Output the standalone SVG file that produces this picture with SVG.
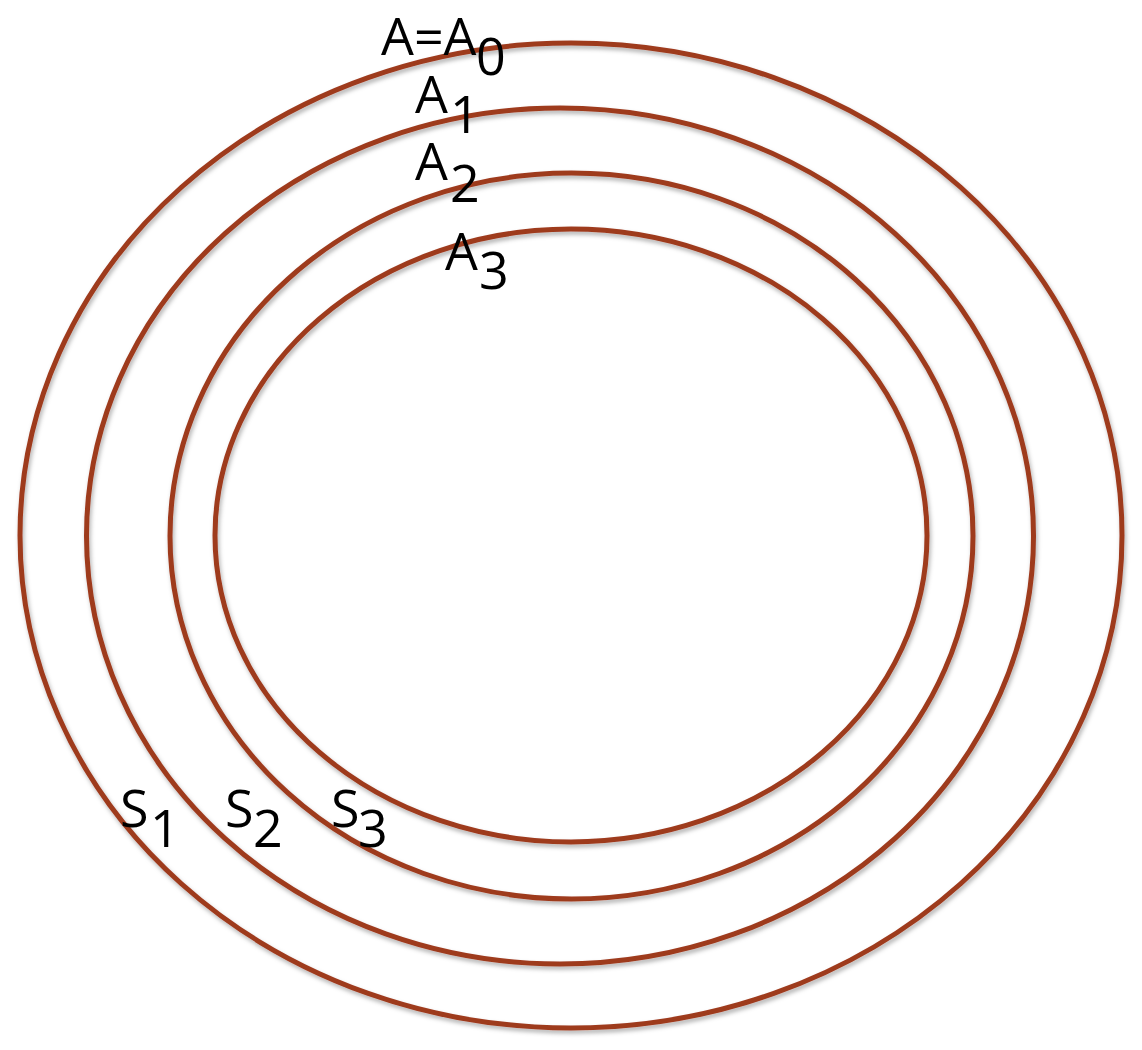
<svg xmlns="http://www.w3.org/2000/svg" width="1142" height="1050" viewBox="0 0 1142 1050">
<defs>
<filter id="sh" x="-5%" y="-5%" width="110%" height="110%">
<feDropShadow dx="1.5" dy="3" stdDeviation="2" flood-color="#000" flood-opacity="0.3"/>
</filter>
<style>
.ring{fill:none;stroke:#9E3A1F;stroke-width:5;filter:url(#sh)}
.lbl{font-family:"Open Sans","Liberation Sans",sans-serif;font-size:52px;fill:#000}
</style>
</defs>
<rect width="1142" height="1050" fill="#fff"/>
<g id="rings">
<g id="A0"><ellipse class="ring" cx="571" cy="535.5" rx="551" ry="492.5"/></g>
<g id="A1"><ellipse class="ring" cx="560" cy="536" rx="473.5" ry="428"/></g>
<g id="A2"><ellipse class="ring" cx="571.5" cy="536" rx="401.5" ry="363"/></g>
<g id="A3"><ellipse class="ring" cx="571" cy="535.5" rx="356" ry="306.5"/></g>
</g>
<g id="labels">
<text class="lbl" x="381" y="55">A=A</text><text class="lbl" x="476" y="75">0</text>
<text class="lbl" x="415" y="113">A</text><text class="lbl" x="450" y="133">1</text>
<text class="lbl" x="415" y="180">A</text><text class="lbl" x="450" y="202">2</text>
<text class="lbl" x="445" y="270">A</text><text class="lbl" x="479" y="289">3</text>
<text class="lbl" x="120" y="827">S</text><text class="lbl" x="150" y="847">1</text>
<text class="lbl" x="225" y="827">S</text><text class="lbl" x="253" y="847">2</text>
<text class="lbl" x="331" y="827">S</text><text class="lbl" x="358" y="847">3</text>
</g>
</svg>
